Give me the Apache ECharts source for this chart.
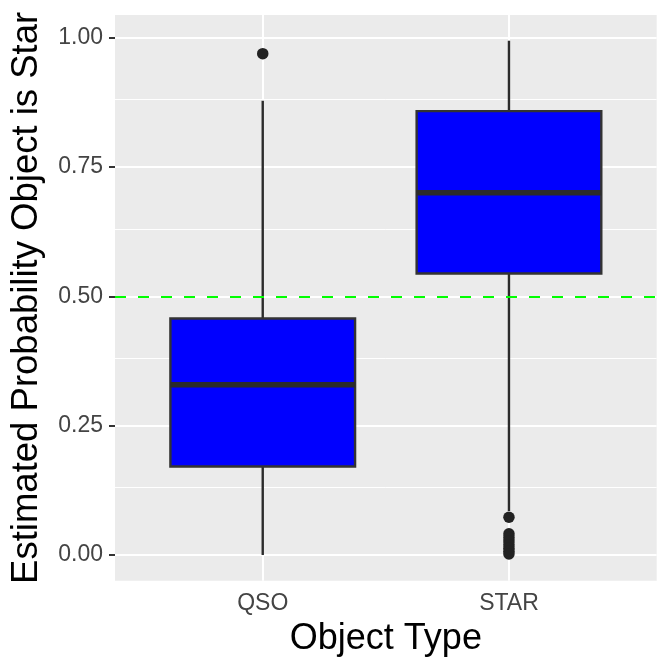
<!DOCTYPE html>
<html>
<head>
<meta charset="utf-8">
<script src="https://cdn.jsdelivr.net/npm/echarts@6/dist/echarts.min.js"></script>
<style>
  html, body { margin: 0; padding: 0; background: #fff; }
  #main { width: 672px; height: 672px; }
</style>
</head>
<body>
<div id="main"></div>
<script>
// data
var categories = ['QSO', 'STAR'];
var lowWhisker = [0.0, 0.085];
var lowerQuartile = [0.171, 0.544];
var medians = [0.329, 0.700];
var upperQuartile = [0.457, 0.858];
var highWhisker = [0.878, 0.994];
var outliersQSO = [0.969];
var outliersSTAR = [0.073, 0.041, 0.034, 0.027, 0.020, 0.013, 0.007, 0.002];
var yTicks = [0, 0.25, 0.5, 0.75, 1];
var yMinor = [0.125, 0.375, 0.625, 0.875];
var cutoff = 0.5;

var font = '"Liberation Sans", Arial, Helvetica, sans-serif';
var boxWidth = 0.75;

var boxData = categories.map(function (c, i) {
    return [i + 1, lowWhisker[i], lowerQuartile[i], medians[i], upperQuartile[i], highWhisker[i]];
});
var outlierData = [];
outliersQSO.forEach(function (v) { outlierData.push([1, v]); });
outliersSTAR.forEach(function (v) { outlierData.push([2, v]); });

var gridLines = [];
yTicks.forEach(function (v) {
    gridLines.push({yAxis: v, lineStyle: {color: '#fff', width: 2, type: 'solid'}});
});
yMinor.forEach(function (v) {
    gridLines.push({yAxis: v, lineStyle: {color: '#fff', width: 1, type: 'solid'}});
});
categories.forEach(function (c, i) {
    gridLines.push({xAxis: i + 1, lineStyle: {color: '#fff', width: 2, type: 'solid'}});
});

var myChart = echarts.init(document.getElementById('main'));
var option = {
    animation: false,
    grid: {
        left: 114.7, right: 15.3, top: 15, bottom: 91.3,
        show: true, backgroundColor: '#EBEBEB', borderWidth: 0
    },
    xAxis: {
        type: 'value', min: 0.4, max: 2.6,
        name: 'Object Type', nameLocation: 'middle', nameGap: 40,
        nameTextStyle: {fontFamily: font, fontSize: 36, color: '#000'},
        axisLine: {show: false},
        axisTick: {show: true, customValues: [1, 2], length: 6, lineStyle: {color: '#333', width: 2}},
        axisLabel: {
            customValues: [1, 2], margin: 11,
            fontFamily: font, fontSize: 23, color: '#444',
            formatter: function (v) { return categories[Math.round(v) - 1]; }
        },
        splitLine: {show: false}
    },
    yAxis: {
        type: 'value', min: -0.0497, max: 1.0437,
        name: 'Estimated Probability Object is Star', nameLocation: 'middle', nameGap: 70,
        nameRotate: 90,
        nameTextStyle: {fontFamily: font, fontSize: 36.5, color: '#000'},
        axisLine: {show: false},
        axisTick: {show: true, customValues: yTicks, length: 6, lineStyle: {color: '#333', width: 2}},
        axisLabel: {
            customValues: yTicks, margin: 12,
            fontFamily: font, fontSize: 23, color: '#444',
            formatter: function (v) { return v.toFixed(2); }
        },
        splitLine: {show: false}
    },
    series: [
        {
            // panel grid lines
            type: 'line', data: [], z: 1, silent: true,
            markLine: {z: 1, symbol: 'none', silent: true, label: {show: false}, animation: false, data: gridLines}
        },
        {
            type: 'custom', z: 3,
            data: boxData,
            renderItem: function (params, api) {
                var x = api.value(0);
                var lo = api.coord([x, api.value(1)]);
                var q1 = api.coord([x - boxWidth / 2, api.value(2)]);
                var md = api.coord([x, api.value(3)]);
                var q3 = api.coord([x + boxWidth / 2, api.value(4)]);
                var hi = api.coord([x, api.value(5)]);
                var left = q1[0], right = q3[0];
                return {
                    type: 'group',
                    children: [
                        {type: 'line', shape: {x1: hi[0], y1: hi[1], x2: hi[0], y2: q3[1]},
                            style: {stroke: '#2b2b2b', lineWidth: 2.4}},
                        {type: 'line', shape: {x1: lo[0], y1: q1[1], x2: lo[0], y2: lo[1]},
                            style: {stroke: '#2b2b2b', lineWidth: 2.4}},
                        {type: 'rect', shape: {x: left, y: q3[1], width: right - left, height: q1[1] - q3[1]},
                            style: {fill: '#0000FF', stroke: '#333', lineWidth: 2.4}},
                        {type: 'line', shape: {x1: left, y1: md[1], x2: right, y2: md[1]},
                            style: {stroke: '#2b2b2b', lineWidth: 5.5}}
                    ]
                };
            }
        },
        {
            type: 'scatter', z: 4,
            data: outlierData,
            symbolSize: 11.5,
            itemStyle: {color: '#222', opacity: 1}
        },
        {
            type: 'line', data: [], z: 10, silent: true,
            markLine: {
                z: 10, symbol: 'none', silent: true, label: {show: false}, animation: false,
                data: [{yAxis: cutoff, lineStyle: {color: '#00FF00', width: 2, type: [11, 12]}}]
            }
        }
    ]
};
myChart.setOption(option);
</script>
</body>
</html>
